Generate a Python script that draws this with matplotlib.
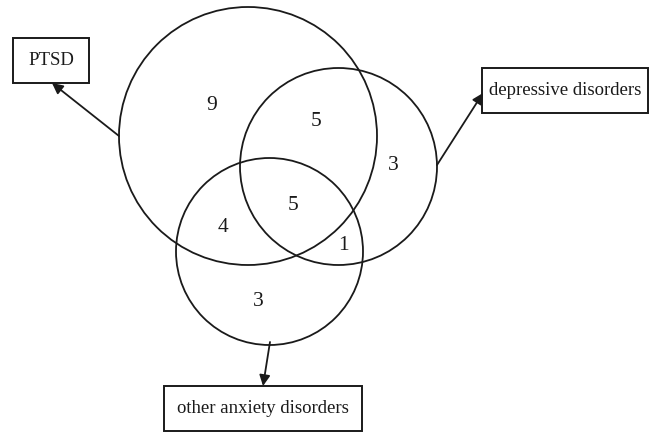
import matplotlib.pyplot as plt
from matplotlib.patches import Circle, Rectangle

# sets and region counts
set_names = ["PTSD", "depressive disorders", "other anxiety disorders"]
region_names = ["PTSD only", "PTSD+dep", "dep only", "all three",
                "PTSD+anx", "dep+anx", "anx only"]
region_counts = [9, 5, 3, 5, 4, 1, 3]

# layout (pixel coordinates, y downward)
circle_xy = [(248, 136), (338.5, 166.5), (269.5, 251.5)]
circle_r = [129, 98.5, 93.5]
count_xy = [(212, 106), (316, 121), (393, 166), (293, 205),
            (223, 228), (343, 245), (258, 302)]
box_xy = [(13, 38, 76, 45), (482, 68, 166, 45), (164, 386, 198, 45)]
arrow_from = [(119, 136), (437, 165), (270, 342)]
arrow_to = [(52, 83), (483, 93), (263, 386)]

plt.rcParams['font.family'] = ['Liberation Serif', 'DejaVu Serif']

fig = plt.figure(figsize=(6.53, 4.33), dpi=100)
ax = fig.add_axes([0, 0, 1, 1])
ax.set_xlim(0, 653)
ax.set_ylim(433, 0)
ax.axis("off")

for (cx, cy), r in zip(circle_xy, circle_r):
    ax.add_patch(Circle((cx, cy), r, fill=False, ec="#1a1a1a", lw=1.3))

for (x, y), n in zip(count_xy, region_counts):
    ax.text(x, y, str(n), fontsize=15.5, ha="center", va="center", color="#1a1a1a")

for (x, y, w, h), name in zip(box_xy, set_names):
    ax.add_patch(Rectangle((x, y), w, h, fill=False, ec="#1a1a1a", lw=1.4))
    ax.text(x + w / 2, y + h / 2, name, fontsize=13.5, ha="center", va="center",
            color="#1a1a1a")

for p0, p1 in zip(arrow_from, arrow_to):
    ax.annotate("", xy=p1, xytext=p0,
                arrowprops=dict(arrowstyle="-|>", color="#1a1a1a", lw=1.3,
                                mutation_scale=16, shrinkA=0, shrinkB=0))

fig.savefig("out.png", dpi=100)
